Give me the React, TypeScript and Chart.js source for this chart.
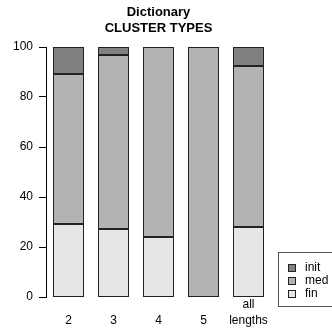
import React, { useEffect, useRef } from "react";
import { Chart, registerables } from "chart.js";

Chart.register(...registerables);

const categories = ["2", "3", "4", "5", "all lengths"];
const tickLabels: string[][] = [["", "2"], ["", "3"], ["", "4"], ["", "5"], ["all", "lengths"]];
const finValues = [29.4, 27.1, 24.0, 0, 28.0];
const medValues = [60.0, 69.9, 76.0, 100, 64.3];
const initValues = [10.6, 3.0, 0, 0, 7.7];
const seriesNames = ["fin", "med", "init"];
const seriesColors = ["#e6e6e6", "#b3b3b3", "#808080"];
const titleLines = ["Dictionary", "CLUSTER TYPES"];
const yTicks = [0, 20, 40, 60, 80, 100];

const FONT = "'Liberation Sans', Arial, Helvetica, sans-serif";

const outlinePlugin = {
  id: "rOutline",
  afterDatasetsDraw(chart: any) {
    const { ctx } = chart;
    ctx.save();
    ctx.strokeStyle = "#222";
    ctx.lineWidth = 1;
    chart.data.datasets.forEach((_: any, di: number) => {
      const meta = chart.getDatasetMeta(di);
      meta.data.forEach((el: any) => {
        const top = Math.min(el.y, el.base);
        const bottom = Math.max(el.y, el.base);
        if (bottom - top < 0.5) return;
        const l = Math.round(el.x - el.width / 2) + 0.5;
        const r = Math.round(el.x + el.width / 2) - 0.5;
        const t = Math.round(top) + 0.5;
        const b = Math.round(bottom) - 0.5;
        ctx.strokeRect(l, t, r - l, b - t);
      });
    });
    ctx.restore();
  },
};

const titlePlugin = {
  id: "rTitle",
  afterDraw(chart: any) {
    const { ctx, chartArea } = chart;
    const cx = (chartArea.left + chartArea.right) / 2;
    ctx.save();
    ctx.fillStyle = "#000";
    ctx.font = `bold 13px ${FONT}`;
    ctx.textAlign = "center";
    ctx.textBaseline = "middle";
    ctx.fillText(titleLines[0], cx, 12.5);
    ctx.fillText(titleLines[1], cx, 28.5);
    ctx.restore();
  },
};

const legendPlugin = {
  id: "rLegend",
  afterDraw(chart: any) {
    const { ctx } = chart;
    ctx.save();
    ctx.strokeStyle = "#555";
    ctx.lineWidth = 1;
    ctx.strokeRect(278.5, 252.5, 70, 54);
    const order = [2, 1, 0];
    const ys = [267.3, 280.3, 293.3];
    ctx.font = `12px ${FONT}`;
    ctx.textBaseline = "middle";
    ctx.textAlign = "left";
    order.forEach((si, i) => {
      const y = ys[i];
      ctx.fillStyle = seriesColors[si];
      ctx.fillRect(288.5, Math.round(y - 3.5) + 0.5, 7, 7);
      ctx.strokeStyle = "#222";
      ctx.strokeRect(288.5, Math.round(y - 3.5) + 0.5, 7, 7);
      ctx.fillStyle = "#000";
      ctx.fillText(seriesNames[si], 305, y);
    });
    ctx.restore();
  },
};

export default function App() {
  const ref = useRef<HTMLCanvasElement | null>(null);
  useEffect(() => {
    if (!ref.current) return;
    const values = [finValues, medValues, initValues];
    const chart = new Chart(ref.current, {
      type: "bar",
      data: {
        labels: categories.map((c, i) => tickLabels[i]),
        datasets: values.map((v, i) => ({
          label: seriesNames[i],
          data: v,
          backgroundColor: seriesColors[i],
          borderWidth: 0,
          barPercentage: 0.667,
          categoryPercentage: 1,
        })),
      },
      options: {
        animation: false,
        responsive: false,
        maintainAspectRatio: false,
        layout: { padding: { top: 47, right: 61, left: 0, bottom: 0 } },
        plugins: {
          legend: { display: false },
          title: { display: false },
          tooltip: { enabled: false },
        },
        scales: {
          x: {
            stacked: true,
            grid: { display: false, drawTicks: false, tickLength: 0 },
            border: { display: false },
            ticks: {
              color: "#000",
              padding: 0,
              maxRotation: 0,
              autoSkip: false,
              font: { family: FONT, size: 12, lineHeight: "16px" },
            },
            afterFit(scale: any) {
              scale.height = 32;
            },
          },
          y: {
            stacked: true,
            min: 0,
            max: 100,
            afterBuildTicks(scale: any) {
              scale.ticks = yTicks.map((v) => ({ value: v }));
            },
            grid: {
              drawOnChartArea: false,
              drawTicks: true,
              tickLength: 7,
              color: "#000",
            },
            border: { display: true, color: "#000", width: 1 },
            ticks: {
              color: "#000",
              padding: 6,
              font: { family: FONT, size: 12 },
            },
            afterFit(scale: any) {
              scale.width = 46;
            },
          },
        },
      },
      plugins: [outlinePlugin, titlePlugin, legendPlugin],
    });
    return () => chart.destroy();
  }, []);
  return (
    <div style={{ position: "absolute", left: 0, top: 0, width: 332, height: 329, background: "#fff" }}>
      <canvas ref={ref} width={332} height={329} style={{ display: "block" }} />
    </div>
  );
}
